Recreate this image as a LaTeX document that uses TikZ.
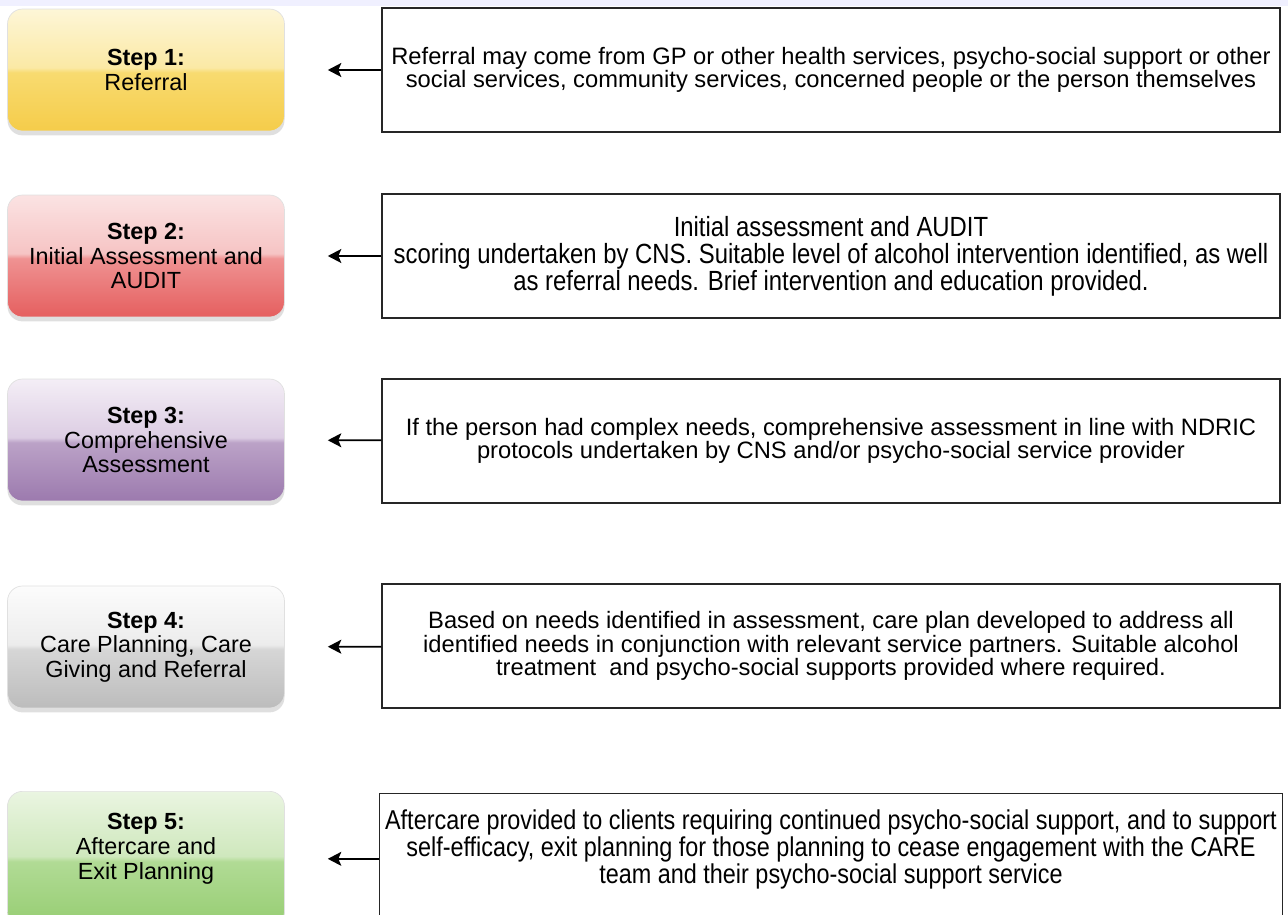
\documentclass[tikz,border=0pt]{standalone}
\usepackage{fontspec}
\setmainfont{Liberation Sans}
\newfontfamily\narrowfont[FakeStretch=0.86]{Liberation Sans}
\usetikzlibrary{shadows,arrows.meta}

% glossy fills for the step boxes: light upper half, deeper lower half
\newcommand{\glossfill}[5]{%
  \pgfdeclareverticalshading{#1}{100bp}{%
    color(0bp)=(#5); color(25bp)=(#5); color(49bp)=(#4);
    color(51bp)=(#3); color(75bp)=(#2); color(100bp)=(#2)}}
\glossfill{glossyellow}{rgb,255:red,253;green,246;blue,215}{rgb,255:red,251;green,233;blue,165}{rgb,255:red,248;green,219;blue,112}{rgb,255:red,245;green,204;blue,74}
\glossfill{glossred}{rgb,255:red,251;green,227;blue,227}{rgb,255:red,246;green,196;blue,196}{rgb,255:red,239;green,146;blue,146}{rgb,255:red,229;green,95;blue,95}
\glossfill{glosspurple}{rgb,255:red,244;green,238;blue,246}{rgb,255:red,220;green,205;blue,227}{rgb,255:red,187;green,162;blue,199}{rgb,255:red,156;green,122;blue,174}
\glossfill{glossgrey}{rgb,255:red,252;green,252;blue,252}{rgb,255:red,236;green,236;blue,236}{rgb,255:red,214;green,214;blue,214}{rgb,255:red,188;green,188;blue,188}
\glossfill{glossgreen}{rgb,255:red,234;green,245;blue,225}{rgb,255:red,207;green,232;blue,189}{rgb,255:red,177;green,219;blue,149}{rgb,255:red,150;green,205;blue,114}

\begin{document}
\begin{tikzpicture}[%
    x=0.02cm, y=-0.02cm,
    stepbox/.style={%
        rounded corners=0.3cm,
        minimum width=5.54cm,
        minimum height=2.44cm,
        align=center,
        font=\fontsize{13.3}{14}\selectfont,
        draw=black!12,
        drop shadow={opacity=0.25, shadow xshift=0pt, shadow yshift=-2.5pt}
    },
    infobox/.style={%
        draw=black!85,
        line width=0.8pt,
        minimum width=17.96cm,
        minimum height=2.48cm,
        align=center,
        font=\fontsize{13.5}{13.2}\selectfont
    },
    narrowtext/.style={%
        font=\narrowfont\fontsize{15.8}{15.4}\selectfont
    },
    >={Stealth[length=0.27cm, width=0.28cm, inset=0.06cm]}
]
\useasboundingbox (0,0) rectangle (1288,915);
\fill[blue!6!white] (0,0) rectangle (1288,6);

% Steps on the left
\node[stepbox, shading=glossyellow] (step1) at (146,70)
    {\textbf{Step 1:}\\Referral};
\node[stepbox, shading=glossred] (step2) at (146,256)
    {\textbf{Step 2:}\\Initial Assessment and\\AUDIT};
\node[stepbox, shading=glosspurple] (step3) at (146,440)
    {\textbf{Step 3:}\\Comprehensive\\Assessment};
\node[stepbox, shading=glossgrey] (step4) at (146,647)
    {\textbf{Step 4:}\\Care Planning, Care\\Giving and Referral};
\node[stepbox, shading=glossgreen, anchor=north, minimum height=2.7cm,
      text depth=0.5cm] (step5) at (146,791)
    {\textbf{Step 5:}\\Aftercare and\\Exit Planning};

% Descriptions on the right
\node[infobox] (info1) at (831,70)
    {Referral may come from GP or other health services, psycho-social support or other\\
     social services, community services, concerned people or the person themselves};
\node[infobox, narrowtext] (info2) at (831,256)
    {Initial assessment and AUDIT\\
     scoring undertaken by CNS. Suitable level of alcohol intervention identified, as well\\
     as referral needs. Brief intervention and education provided.};
\node[infobox] (info3) at (831,441)
    {If the person had complex needs, comprehensive assessment in line with NDRIC\\
     protocols undertaken by CNS and/or psycho-social service provider};
\node[infobox] (info4) at (831,646)
    {Based on needs identified in assessment, care plan developed to address all\\
     identified needs in conjunction with relevant service partners. Suitable alcohol\\
     treatment\ \ and psycho-social supports provided where required.};
\node[infobox, narrowtext, font=\narrowfont\fontsize{15.5}{15.4}\selectfont,
      anchor=north, minimum height=2.7cm, text depth=0.6cm] (info5) at (831,793)
    {Aftercare provided to clients requiring continued psycho-social support, and to support\\
     self-efficacy, exit planning for those planning to cease engagement with the CARE\\
     team and their psycho-social support service};

% Arrows
\draw[->, line width=1pt, shorten >=0.86cm] (info1) -- (step1);
\draw[->, line width=1pt, shorten >=0.86cm] (info2) -- (step2);
\draw[->, line width=1pt, shorten >=0.86cm] (info3) -- (step3);
\draw[->, line width=1pt, shorten >=0.86cm] (info4) -- (step4);
\draw[->, line width=1pt, shorten >=0.86cm] (info5.west |- step5) -- (step5);

\end{tikzpicture}
\end{document}
